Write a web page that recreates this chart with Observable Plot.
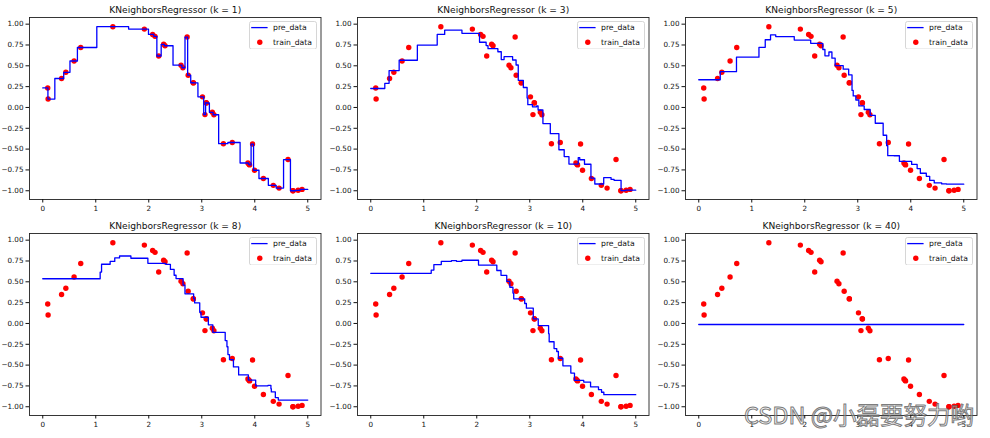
<!DOCTYPE html>
<html>
<head>
<meta charset="utf-8">
<script src="https://cdn.jsdelivr.net/npm/d3@7"></script>
<script src="https://cdn.jsdelivr.net/npm/@observablehq/plot@0.6"></script>
<style>
  body { margin: 0; background: #fff; }
  #root { position: relative; width: 990px; height: 438px; overflow: hidden; background: #fff; font-family: "DejaVu Sans", sans-serif; }
  .panel { position: absolute; }
  .legend { position: absolute; }
  .wm { position: absolute; left: 744px; top: 400px; font-family: "Noto Sans CJK SC", sans-serif; font-size: 23.5px; line-height: 28px; white-space: nowrap;
        color: rgba(235,235,235,0.45); -webkit-text-stroke: 1px rgba(90,90,90,0.8); }
</style>
</head>
<body>
<div id="root"></div>
<script>
// ---- data ----
const kValues = [1, 3, 5, 8, 10, 40];
const seriesNames = ["pre_data", "train_data"];
const xTicks = [0, 1, 2, 3, 4, 5];
const yTicks = [-1, -0.75, -0.5, -0.25, 0, 0.25, 0.5, 0.75, 1];

const trainX = [0.0939, 0.1011, 0.3552, 0.4356, 0.5914, 0.7168, 1.3228, 1.9172, 2.0733, 2.1183,
                2.1879, 2.2808, 2.3074, 2.6092, 2.6445, 2.7244, 2.7441, 2.8402, 2.8422, 3.0138,
                3.0605, 3.0847, 3.0882, 3.1996, 3.2295, 3.4091, 3.5759, 3.8712, 3.8908, 3.9026,
                3.9586, 3.9958, 4.1631, 4.3501, 4.4589, 4.6280, 4.7187, 4.7233, 4.8183, 4.8931];
const trainY = [0.2343, 0.1009, 0.3478, 0.4220, 0.5575, 0.7199, 0.9694, 0.9406, 0.8764, 0.8538,
                0.6179, 0.7584, 0.7408, 0.5076, 0.4769, 0.8450, 0.3871, 0.2968, 0.2950, 0.1274,
                -0.0857, 0.0569, 0.0534, -0.0580, -0.0878, -0.4350, -0.4208, -0.6666, -0.6810, -0.6897,
                -0.4395, -0.7540, -0.8529, -0.9351, -0.9680, -0.6254, -1.0000, -0.9999, -0.9944, -0.9837];

// prediction steps (pre_data): x where each level starts, and the levels
const breaksK1 = [0.0975, 0.228, 0.3955, 0.5135, 0.654, 1.020, 1.620, 1.995, 2.0955, 2.153,
                  2.2345, 2.294, 2.458, 2.6265, 2.684, 2.734, 2.792, 2.841, 2.928, 3.037,
                  3.0725, 3.0865, 3.144, 3.2145, 3.319, 3.4925, 3.7235, 3.881, 3.897, 3.931,
                  3.9775, 4.0795, 4.2565, 4.4045, 4.5435, 4.6735, 4.721, 4.7705, 4.8555];
const levelsK1 = [0.2343, 0.1009, 0.3478, 0.4220, 0.5575, 0.7199, 0.9694, 0.9406, 0.8764, 0.8538,
                  0.6179, 0.7584, 0.7408, 0.5076, 0.4769, 0.8450, 0.3871, 0.2968, 0.2950, 0.1274,
                  -0.0857, 0.0569, 0.0534, -0.0580, -0.0878, -0.4350, -0.4208, -0.6666, -0.6810, -0.6897,
                  -0.4395, -0.7540, -0.8529, -0.9351, -0.9680, -0.6254, -1.0000, -0.9999, -0.9944, -0.9837];

const breaksK3 = [0.265, 0.346, 0.536, 0.8795, 1.254, 1.395, 1.7205, 2.0525, 2.177, 2.2125,
                  2.3985, 2.4625, 2.5155, 2.6765, 2.742, 2.783, 2.879, 2.950, 2.9635, 3.051,
                  3.130, 3.157, 3.2485, 3.388, 3.550, 3.650, 3.7395, 3.915, 3.9435, 4.033,
                  4.1545, 4.2275, 4.3955, 4.5345, 4.591, 4.723, 4.806];
const levelsK3 = [0.2277, 0.2902, 0.4424, 0.5665, 0.7489, 0.8766, 0.9288, 0.8903, 0.7827, 0.7434,
                  0.7057, 0.6689, 0.5751, 0.6098, 0.5697, 0.5096, 0.3263, 0.2397, 0.1122, 0.0329,
                  0.0082, 0.0174, -0.0308, -0.1936, -0.3145, -0.5075, -0.5895, -0.6791, -0.6034, -0.6277,
                  -0.6821, -0.8473, -0.9187, -0.8428, -0.8645, -0.8751, -0.9981, -0.9927];

const breaksK5 = [0.4055, 0.712, 1.136, 1.2545, 1.3545, 1.4525, 1.802, 2.112, 2.341, 2.381,
                  2.456, 2.5125, 2.5735, 2.7255, 2.829, 2.892, 2.9145, 2.964, 3.021, 3.1215,
                  3.2345, 3.3305, 3.4795, 3.5455, 3.566, 3.684, 3.786, 4.017, 4.1205, 4.181,
                  4.2935, 4.3575, 4.443, 4.584, 4.676];
const levelsK5 = [0.3325, 0.4296, 0.6033, 0.7219, 0.8128, 0.8720, 0.8516, 0.8094, 0.7695, 0.6957,
                  0.6203, 0.6657, 0.5915, 0.5027, 0.4602, 0.3903, 0.2041, 0.1381, 0.0894, 0.0188,
                  -0.0242, -0.0941, -0.1896, -0.3336, -0.4582, -0.5786, -0.5795, -0.6462, -0.6834, -0.7342,
                  -0.7899, -0.8271, -0.8763, -0.9057, -0.9175, -0.9207];

const breaksK8 = [1.0835, 1.1095, 1.2715, 1.3585, 1.449, 1.663, 1.9835, 2.3205, 2.4085, 2.479,
                  2.515, 2.6475, 2.6835, 2.847, 2.866, 2.962, 2.9865, 3.1245, 3.209, 3.4425,
                  3.4755, 3.494, 3.5235, 3.598, 3.696, 3.8795, 4.0175, 4.2495, 4.305, 4.313,
                  4.3885, 4.4445];
const levelsK8 = [0.5366, 0.6168, 0.7109, 0.7447, 0.7867, 0.8097, 0.7831, 0.7216, 0.7096, 0.6484,
                  0.5788, 0.5385, 0.4596, 0.3563, 0.2999, 0.2470, 0.1341, 0.0748, -0.0167, -0.1062,
                  -0.2055, -0.2799, -0.3732, -0.4348, -0.5218, -0.6174, -0.6800, -0.7484, -0.7432, -0.7831,
                  -0.8219, -0.8912, -0.9199];

const breaksK10 = [1.141, 1.191, 1.331, 1.5225, 1.6175, 1.7205, 2.0335, 2.3785, 2.4575, 2.566,
                   2.624, 2.683, 2.6975, 2.9045, 2.9365, 3.0665, 3.160, 3.3555, 3.3665, 3.4585,
                   3.5095, 3.5405, 3.6255, 3.775, 3.844, 4.0185, 4.1475, 4.297, 4.3545, 4.398];
const levelsK10 = [0.6023, 0.6406, 0.7064, 0.7457, 0.7542, 0.7462, 0.7587, 0.7005, 0.6361, 0.5779,
                   0.5053, 0.4349, 0.3648, 0.2960, 0.2395, 0.1830, 0.0550, -0.0258, -0.1221, -0.2197,
                   -0.3014, -0.3368, -0.4179, -0.5085, -0.5962, -0.6843, -0.7033, -0.7612, -0.7946, -0.8259,
                   -0.8553];

const breaksK40 = [];
const levelsK40 = [-0.0123];

const xStart = 0, xEnd = 5;

// ---- build tables ----
const trainData = trainX.map((x, i) => ({x, y: trainY[i]}));
function stepTable(breaks, levels) {
  const starts = [xStart, ...breaks];
  const rows = starts.map((x, i) => ({x, y: levels[i]}));
  rows.push({x: xEnd, y: levels[levels.length - 1]});
  return rows;
}
const preds = [
  stepTable(breaksK1, levelsK1), stepTable(breaksK3, levelsK3), stepTable(breaksK5, levelsK5),
  stepTable(breaksK8, levelsK8), stepTable(breaksK10, levelsK10), stepTable(breaksK40, levelsK40)
];

// ---- layout ----
const colLeft = [28.5, 356.5, 684.5];
const rowTop = [17.3, 233.3];
const FW = 291.5, FH = 182;
const ML = 40, MT = 20, MR = 6, MB = 24;
const root = document.getElementById("root");

kValues.forEach((k, i) => {
  const c = i % 3, r = Math.floor(i / 3);
  const chart = Plot.plot({
    width: ML + FW + MR,
    height: MT + FH + MB,
    marginLeft: ML, marginTop: MT, marginRight: MR, marginBottom: MB,
    x: {domain: [-0.25, 5.25]},
    y: {domain: [-1.105, 1.08]},
    style: {background: "transparent", fontFamily: "DejaVu Sans", fontSize: "7.2px", color: "#111", overflow: "visible"},
    marks: [
      Plot.dot(trainData, {x: "x", y: "y", r: 2.7, fill: "#ff0000", stroke: "none"}),
      Plot.line(preds[i], {x: "x", y: "y", curve: "step-after", stroke: "#0000ff", strokeWidth: 1.3}),
      Plot.frame({stroke: "#222", strokeWidth: 0.9}),
      Plot.axisX({ticks: xTicks, tickSize: 3.5, tickPadding: 2.5, label: null, tickFormat: d => String(d)}),
      Plot.axisY({ticks: yTicks, tickSize: 3.5, tickPadding: 2.5, label: null, tickFormat: ".2f"}),
      Plot.text([`KNeighborsRegressor (k = ${k})`], {frameAnchor: "top", dy: -7.5, lineAnchor: "middle", fontSize: 9.1, fill: "#111", text: d => d})
    ]
  });
  chart.classList.add("panel");
  chart.style.left = (colLeft[c] - ML) + "px";
  chart.style.top = (rowTop[r] - MT) + "px";
  root.appendChild(chart);

  // legend (upper right)
  const LW = 67, LH = 27.6;
  const ns = "http://www.w3.org/2000/svg";
  const lg = document.createElementNS(ns, "svg");
  lg.setAttribute("width", LW + 1); lg.setAttribute("height", LH + 1);
  lg.setAttribute("class", "legend");
  lg.style.left = (colLeft[c] + FW - 4.2 - LW) + "px";
  lg.style.top = (rowTop[r] + 3.4) + "px";
  lg.innerHTML =
    `<rect x="0.5" y="0.5" width="${LW}" height="${LH}" rx="2" fill="rgba(255,255,255,0.8)" stroke="#cccccc" stroke-width="0.8"/>` +
    `<line x1="2.2" x2="18.6" y1="6.6" y2="6.6" stroke="#0000ff" stroke-width="1.3"/>` +
    `<circle cx="10.8" cy="21.2" r="2.7" fill="#ff0000"/>` +
    `<text x="24" y="6.6" dominant-baseline="central" font-family="DejaVu Sans" font-size="7.7" fill="#111">${seriesNames[0]}</text>` +
    `<text x="24" y="21.2" dominant-baseline="central" font-family="DejaVu Sans" font-size="7.7" fill="#111">${seriesNames[1]}</text>`;
  root.appendChild(lg);
});

const wm = document.createElement("div");
wm.className = "wm";
wm.textContent = "CSDN @小磊要努力哟";
root.appendChild(wm);
</script>
</body>
</html>
